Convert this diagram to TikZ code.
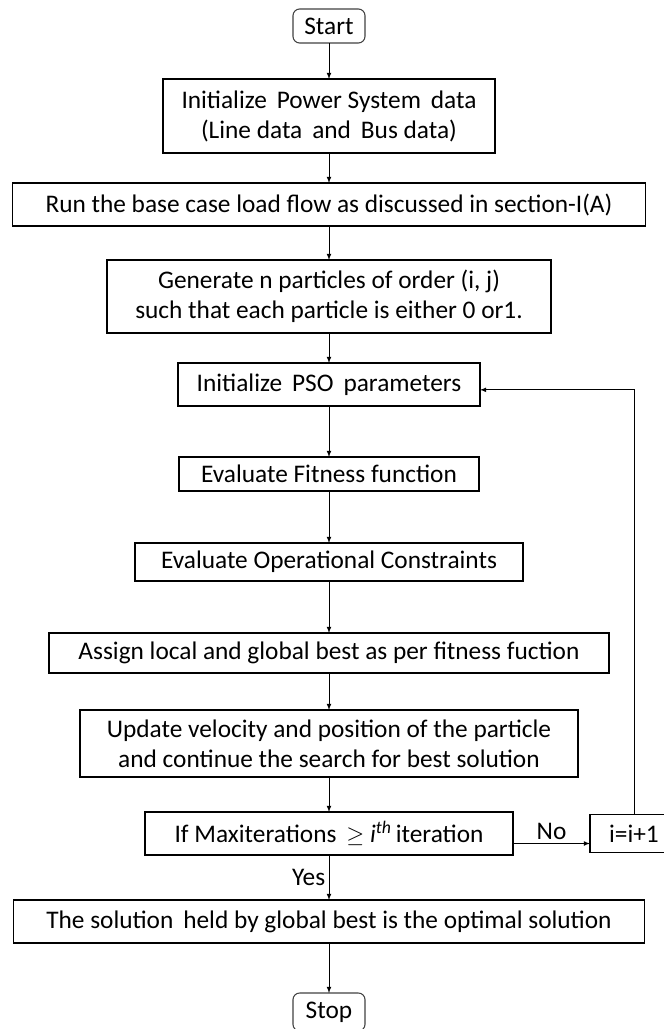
\documentclass[tikz,border=0pt]{standalone}
\usepackage{fontspec}
\setmainfont{Carlito}
\usetikzlibrary{arrows, calc, positioning, shapes.misc}

\begin{document}
\begin{tikzpicture}[node distance=25pt,font=\fontsize{19}{22.5}\selectfont]
\tikzset{every node/.style={inner sep=1mm, outer sep=0mm}}

\tikzstyle{block}=[rectangle,draw=black,thick,align=center]
\tikzstyle{terminal}=[rectangle,rounded corners=5pt,draw=black!75,thick,minimum width=54pt,minimum height=25.5pt]
\tikzstyle{post}=[->, semithick, >=latex]

% page of 664 x 1029 px
\useasboundingbox (0,0) rectangle (498pt,-771.75pt);
\clip (0,0) rectangle (498pt,-771.75pt);

\node[terminal] (start) at (246.75pt,-19.5pt) {Start};
\node[block, minimum width=249pt, minimum height=55.5pt, below=27pt of start] (init data) {Initialize\, Power System\, data\\ (Line data\, and\, Bus data)};
\node[block, minimum width=474.75pt, minimum height=32.25pt, below=22.5pt of init data] (base case) {Run the base case load flow as discussed in section-I(A)};
\node[block, minimum width=333pt, minimum height=54.75pt, below=25.5pt of base case] (generate particles) {Generate n particles of order (i, j)\\ such that each particle is either 0 or1.};
\node[block, minimum width=226.5pt, minimum height=32.25pt, below=22.5pt of generate particles] (pso params) {Initialize\, PSO\, parameters};
\node[block, minimum width=225pt, minimum height=25.5pt, below=38.25pt of pso params] (fitness) {Evaluate Fitness function};
\node[block, minimum width=291pt, minimum height=28.5pt, below=39pt of fitness] (constraints) {Evaluate Operational Constraints};
\node[block, minimum width=420pt, minimum height=30pt, below=39pt of constraints] (best) {Assign local and global best as per fitness fuction};
\node[block, minimum width=373.5pt, minimum height=50.25pt, below=27.75pt of best] (update) {Update velocity and position of the particle\\ and continue the search for best solution};
\node[block, minimum width=276pt, minimum height=32.25pt, below=26.25pt of update] (max check) {If Maxiterations\, $\geq$ \textit{i}\textsuperscript{\textit{th}}\,iteration};
\node[block, minimum width=66pt, minimum height=28.5pt, right=57.75pt of max check] (increment) {i=i+1};
\node[block, minimum width=473.25pt, minimum height=32.25pt, below=33.75pt of max check] (solution) {The solution\, held by global best is the optimal solution};
\node[terminal, minimum height=28.5pt, below=37.5pt of solution] (stop) {Stop};

\path[post] (start) edge (init data);
\path[post] (init data) edge (base case);
\path[post] (base case) edge (generate particles);
\path[post] (generate particles) edge (pso params);
\path[post] (pso params) edge (fitness);
\path[post] (fitness) edge (constraints);
\path[post] (constraints) edge (best);
\path[post] (best) edge (update);
\path[post] (update) edge (max check);
\path[post] (max check) edge node[left] {Yes} (solution);
\path[post] (solution) edge (stop);

\draw[post] ([yshift=-7.5pt]max check.east) -- node[above] {No} ([yshift=-7.5pt]max check.east -| increment.west);
\draw[post] (increment.north) |- ([yshift=-4pt]pso params.east);

\end{tikzpicture}
\end{document}
